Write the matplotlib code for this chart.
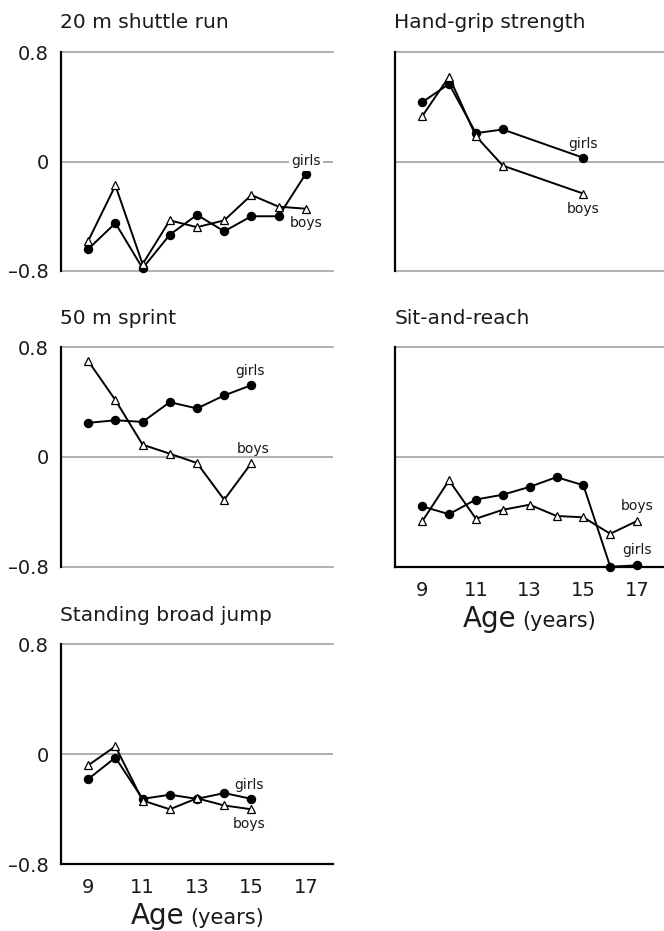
import matplotlib
matplotlib.use('Agg')
import matplotlib.pyplot as plt

# ---------------- data ----------------
ages_full = [9, 10, 11, 12, 13, 14, 15, 16, 17]
ages_short = [9, 10, 11, 12, 13, 14, 15]
ages_grip = [9, 10, 11, 12, 15]

shuttle_boys = [-0.58, -0.175, -0.75, -0.43, -0.48, -0.43, -0.245, -0.33, -0.345]
shuttle_girls = [-0.64, -0.45, -0.78, -0.535, -0.39, -0.51, -0.40, -0.40, -0.09]
grip_boys = [0.33, 0.62, 0.185, -0.03, -0.235]
grip_girls = [0.433, 0.567, 0.207, 0.234, 0.027]
sprint_boys = [0.70, 0.415, 0.09, 0.024, -0.044, -0.312, -0.044]
sprint_girls = [0.249, 0.268, 0.256, 0.40, 0.354, 0.449, 0.524]
sit_boys = [-0.47, -0.17, -0.45, -0.385, -0.348, -0.43, -0.44, -0.56, -0.466]
sit_girls = [-0.36, -0.417, -0.31, -0.275, -0.218, -0.147, -0.206, -0.80, -0.79]
jump_boys = [-0.08, 0.058, -0.336, -0.40, -0.32, -0.372, -0.40]
jump_girls = [-0.18, -0.024, -0.324, -0.294, -0.324, -0.282, -0.324]

titles = ["20 m shuttle run", "Hand-grip strength", "50 m sprint",
          "Sit-and-reach", "Standing broad jump"]
y_ticks = [-0.8, 0, 0.8]
y_ticklabels = ["\u20130.8", "0", "0.8"]
x_ticks = [9, 11, 13, 15, 17]

plt.rcParams['font.family'] = ['DejaVu Sans']

W, H = 664, 931
fig = plt.figure(figsize=(W / 100, H / 100), dpi=100)


def make_ax(left, top, right, bottom):
    return fig.add_axes([left / W, 1 - bottom / H, (right - left) / W, (bottom - top) / H])


panels = [
    ((61, 52, 333, 271), ages_full, shuttle_boys, shuttle_girls, titles[0], True, False,
     [("girls", 17.0, 0.0, True), ("boys", 17.0, -0.45, False)]),
    ((395.3, 52, 664, 271), ages_grip, grip_boys, grip_girls, titles[1], False, False,
     [("girls", 15.0, 0.13, False), ("boys", 15.0, -0.35, False)]),
    ((61, 347.3, 333, 566.7), ages_short, sprint_boys, sprint_girls, titles[2], True, False,
     [("girls", 14.95, 0.625, False), ("boys", 15.05, 0.06, False)]),
    ((395.3, 347.3, 664, 566.7), ages_full, sit_boys, sit_girls, titles[3], False, True,
     [("boys", 17.0, -0.36, False), ("girls", 17.0, -0.68, False)]),
    ((61, 644.3, 333, 864.3), ages_short, jump_boys, jump_girls, titles[4], True, True,
     [("girls", 14.93, -0.22, False), ("boys", 14.9, -0.51, False)]),
]

grid_col = '#9a9a9a'
text_col = '#1a1a1a'

for rect, xs, boys, girls, title, show_y, show_x, labels in panels:
    ax = make_ax(*rect)
    ax.set_xlim(8, 18)
    ax.set_ylim(-0.8, 0.8)
    for s in ['top', 'right']:
        ax.spines[s].set_visible(False)
    ax.spines['left'].set_color('black')
    ax.spines['left'].set_linewidth(1.6)
    if show_x:
        ax.spines['bottom'].set_color('black')
        ax.spines['bottom'].set_linewidth(1.6)
    else:
        ax.spines['bottom'].set_visible(False)
        ax.axhline(-0.8, color=grid_col, lw=1.1, zorder=1, clip_on=False)
    ax.axhline(0.8, color=grid_col, lw=1.1, zorder=1, clip_on=False)
    ax.axhline(0.0, color=grid_col, lw=1.1, zorder=1)

    ax.plot(xs, girls, color='black', lw=1.4, marker='o', ms=5.8,
            mfc='black', mec='black', zorder=3, clip_on=False)
    ax.plot(xs, boys, color='black', lw=1.4, marker='^', ms=6.4,
            mfc='white', mec='black', mew=0.9, zorder=4, clip_on=False)

    for txt, lx, ly, bg in labels:
        kw = {}
        if bg:
            kw['bbox'] = dict(facecolor='white', edgecolor='none', pad=1.5)
        ax.text(lx, ly, txt, ha='center', va='center', fontsize=10,
                color=text_col, zorder=5, **kw)

    ax.set_title(title, loc='left', fontsize=14.5, pad=17, x=-0.003, color=text_col)

    ax.set_yticks(y_ticks)
    if show_y:
        ax.set_yticklabels(y_ticklabels, fontsize=14, color=text_col)
    else:
        ax.set_yticklabels([])
    ax.tick_params(axis='y', length=0, pad=9)

    ax.set_xticks(x_ticks)
    if show_x:
        ax.set_xticklabels([str(t) for t in x_ticks], fontsize=14, color=text_col)
        ax.tick_params(axis='x', length=0, pad=10)
        cx = (rect[0] + rect[2]) / 2
        base = rect[3] + 60
        fig.text((cx - 13) / W, 1 - base / H, "Age", ha='right', va='baseline',
                 fontsize=20, color=text_col)
        fig.text((cx - 7) / W, 1 - base / H, "(years)", ha='left', va='baseline',
                 fontsize=15, color=text_col)
    else:
        ax.set_xticklabels([])
        ax.tick_params(axis='x', length=0)

fig.savefig('out.png', dpi=100, facecolor='white')
